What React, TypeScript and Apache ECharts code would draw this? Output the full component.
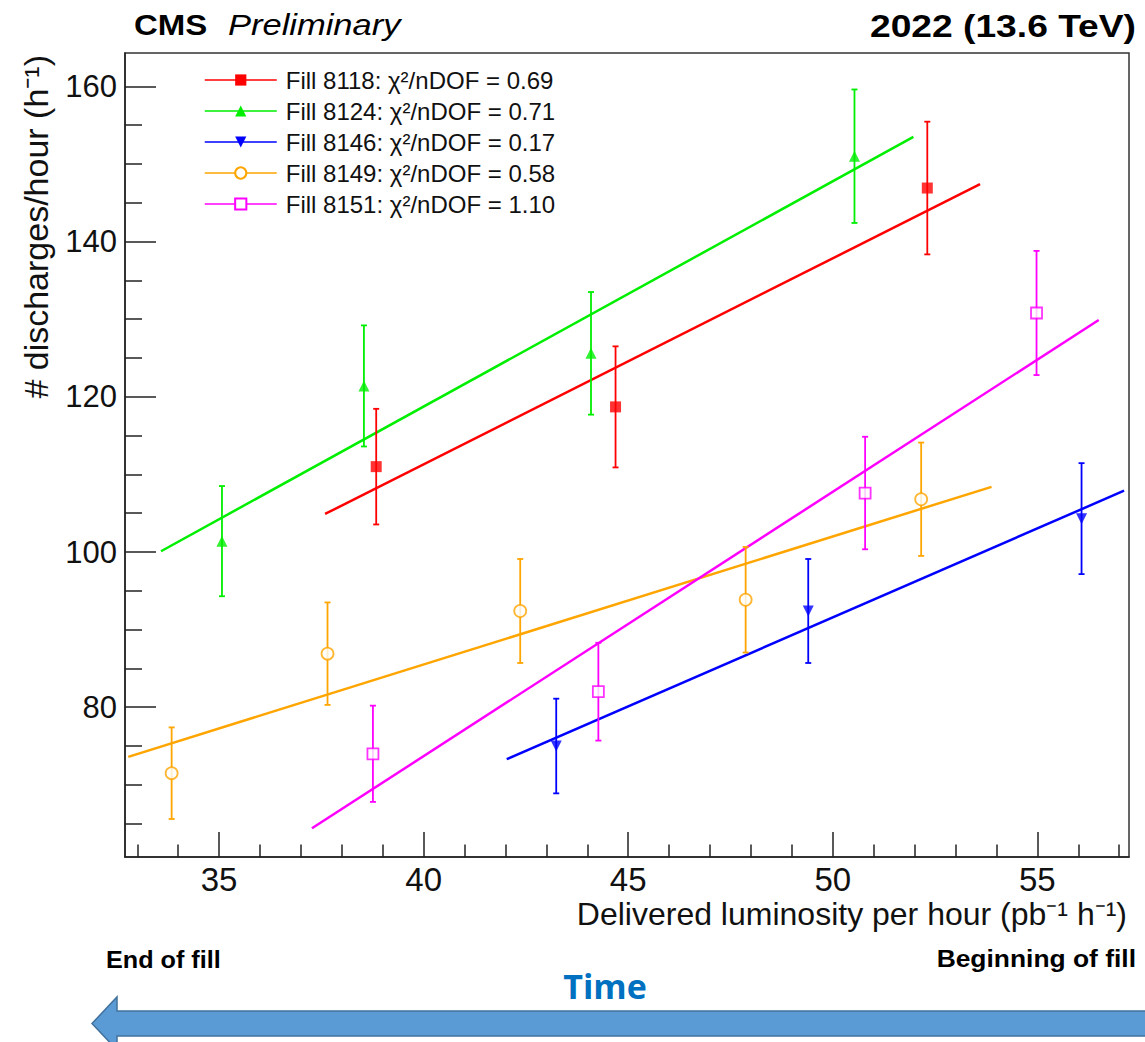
import React, { useEffect, useRef } from "react";
import * as echarts from "echarts";

// ---- data ----
const seriesNames = [
  "Fill 8118: χ²/nDOF = 0.69",
  "Fill 8124: χ²/nDOF = 0.71",
  "Fill 8146: χ²/nDOF = 0.17",
  "Fill 8149: χ²/nDOF = 0.58",
  "Fill 8151: χ²/nDOF = 1.10",
];

const fill8118X = [38.84, 44.69, 52.31];
const fill8118Y = [111.0, 118.7, 146.9];
const fill8118Err = [7.45, 7.8, 8.55];
const fill8118Fit = [[37.59, 104.9], [53.6, 147.4]];

const fill8124X = [35.07, 38.54, 44.09, 50.53];
const fill8124Y = [101.4, 121.4, 125.6, 151.0];
const fill8124Err = [7.1, 7.8, 7.9, 8.6];
const fill8124Fit = [[33.58, 100.1], [51.97, 153.5]];

const fill8146X = [43.24, 49.4, 56.08];
const fill8146Y = [75.0, 92.4, 104.3];
const fill8146Err = [6.1, 6.7, 7.15];
const fill8146Fit = [[42.03, 73.3], [57.12, 107.9]];

const fill8149X = [33.84, 37.65, 42.36, 47.87, 52.16];
const fill8149Y = [71.5, 86.9, 92.4, 93.85, 106.8];
const fill8149Err = [5.9, 6.6, 6.7, 6.8, 7.3];
const fill8149Fit = [[32.78, 73.6], [53.88, 108.4]];

const fill8151X = [38.76, 44.27, 50.79, 54.98];
const fill8151Y = [74.0, 82.0, 107.6, 130.8];
const fill8151Err = [6.2, 6.3, 7.25, 8.0];
const fill8151Fit = [[37.27, 64.4], [56.5, 129.9]];

const xMajorTicks = [35, 40, 45, 50, 55];
const xMinorTicks = [33, 34, 36, 37, 38, 39, 41, 42, 43, 44, 46, 47, 48, 49, 51, 52, 53, 54, 56, 57];
const yMajorTicks = [80, 100, 120, 140, 160];
const yMinorTicks = [65, 70, 75, 85, 90, 95, 105, 110, 115, 125, 130, 135, 145, 150, 155];

const xMin = 32.7;
const xMax = 57.24;
const yMin = 60.7;
const yMax = 164.3;

const FONT = "'Liberation Sans', Arial, Helvetica, sans-serif";

type Fill = {
  name: string;
  xs: number[];
  ys: number[];
  errs: number[];
  fit: number[][];
  color: string;
  symbol: string;
  legendSymbol: string;
  rotate: number;
  hollow: boolean;
  size: number;
};

const fills: Fill[] = [
  { name: seriesNames[0], xs: fill8118X, ys: fill8118Y, errs: fill8118Err, fit: fill8118Fit, color: "#FF0000", symbol: "rect", legendSymbol: "rect", rotate: 0, hollow: false, size: 11 },
  { name: seriesNames[1], xs: fill8124X, ys: fill8124Y, errs: fill8124Err, fit: fill8124Fit, color: "#00EE00", symbol: "triangle", legendSymbol: "triangle", rotate: 0, hollow: false, size: 11 },
  { name: seriesNames[2], xs: fill8146X, ys: fill8146Y, errs: fill8146Err, fit: fill8146Fit, color: "#0000FF", symbol: "triangle", legendSymbol: "triangle", rotate: 180, hollow: false, size: 11 },
  { name: seriesNames[3], xs: fill8149X, ys: fill8149Y, errs: fill8149Err, fit: fill8149Fit, color: "#FFA500", symbol: "circle", legendSymbol: "emptyCircle", rotate: 0, hollow: true, size: 12 },
  { name: seriesNames[4], xs: fill8151X, ys: fill8151Y, errs: fill8151Err, fit: fill8151Fit, color: "#FF00FF", symbol: "rect", legendSymbol: "emptyRect", rotate: 0, hollow: true, size: 11 },
];

function buildOption() {
  const series: any[] = [];
  fills.forEach((f, k) => {
    series.push({
      name: f.name,
      type: "line",
      data: f.fit,
      showSymbol: false,
      symbol: f.legendSymbol,
      symbolRotate: f.rotate,
      lineStyle: { color: f.color, width: 2.5 },
      itemStyle: { color: f.color },
      z: 2,
      silent: true,
    });
    series.push({
      name: "err" + k,
      type: "custom",
      data: f.xs.map((x, i) => [x, f.ys[i] - f.errs[i], f.ys[i] + f.errs[i]]),
      encode: { x: 0, y: [1, 2] },
      z: 3,
      silent: true,
      renderItem: (params: any, api: any) => {
        const x = api.value(0);
        const lo = api.coord([x, api.value(1)]);
        const hi = api.coord([x, api.value(2)]);
        const cap = 3;
        const st = { stroke: f.color, lineWidth: 1.8 };
        return {
          type: "group",
          children: [
            { type: "line", shape: { x1: lo[0], y1: lo[1], x2: hi[0], y2: hi[1] }, style: st },
            { type: "line", shape: { x1: lo[0] - cap, y1: lo[1], x2: lo[0] + cap, y2: lo[1] }, style: st },
            { type: "line", shape: { x1: hi[0] - cap, y1: hi[1], x2: hi[0] + cap, y2: hi[1] }, style: st },
          ],
        };
      },
    });
    series.push({
      name: "pts" + k,
      type: "scatter",
      data: f.xs.map((x, i) => [x, f.ys[i]]),
      symbol: f.symbol,
      symbolRotate: f.rotate,
      symbolSize: f.size,
      itemStyle: f.hollow
        ? { color: "#FFFFFF", borderColor: f.color, borderWidth: 1.8 }
        : { color: f.color },
      z: 4,
      silent: true,
    });
  });

  const axisLineStyle = { color: "#222", width: 1.5 };

  return {
    animation: false,
    backgroundColor: "#FFFFFF",
    grid: {
      left: 125,
      top: 53,
      width: 1004,
      height: 804,
      show: true,
      borderColor: "#333",
      borderWidth: 1.5,
      backgroundColor: "transparent",
    },
    legend: {
      data: seriesNames,
      orient: "vertical",
      left: 199,
      top: 63,
      itemWidth: 72,
      itemHeight: 14,
      itemGap: 7,
      selectedMode: false,
      lineStyle: { width: 1.5 },
      textStyle: {
        fontFamily: FONT,
        fontSize: 24,
        lineHeight: 24,
        color: "#111",
        padding: [0, 0, 0, 4],
      },
    },
    xAxis: [
      {
        type: "value",
        min: xMin,
        max: xMax,
        position: "bottom",
        axisLine: { show: true, lineStyle: axisLineStyle },
        axisTick: { show: true, inside: true, length: 25, customValues: xMajorTicks, lineStyle: axisLineStyle },
        axisLabel: {
          show: true,
          customValues: xMajorTicks,
          fontFamily: FONT,
          fontSize: 33,
          color: "#111",
          margin: 6,
        },
        splitLine: { show: false },
      },
      {
        type: "value",
        min: xMin,
        max: xMax,
        position: "bottom",
        axisLine: { show: false },
        axisTick: { show: true, inside: true, length: 12.5, customValues: xMinorTicks, lineStyle: axisLineStyle },
        axisLabel: { show: false },
        splitLine: { show: false },
      },
    ],
    yAxis: [
      {
        type: "value",
        min: yMin,
        max: yMax,
        position: "left",
        axisLine: { show: true, lineStyle: axisLineStyle },
        axisTick: { show: true, inside: true, length: 31, customValues: yMajorTicks, lineStyle: axisLineStyle },
        axisLabel: {
          show: true,
          customValues: yMajorTicks,
          fontFamily: FONT,
          fontSize: 31,
          color: "#111",
          margin: 8,
        },
        splitLine: { show: false },
      },
      {
        type: "value",
        min: yMin,
        max: yMax,
        position: "left",
        axisLine: { show: false },
        axisTick: { show: true, inside: true, length: 17, customValues: yMinorTicks, lineStyle: axisLineStyle },
        axisLabel: { show: false },
        splitLine: { show: false },
      },
    ],
    graphic: [
      {
        type: "text",
        x: 134,
        y: 25,
        scaleX: 1.1,
        style: { text: "CMS", font: `bold 30px ${FONT}`, fill: "#000", align: "left", verticalAlign: "middle", textAlign: "left", textVerticalAlign: "middle" },
      },
      {
        type: "text",
        x: 228,
        y: 25,
        scaleX: 1.15,
        style: { text: "Preliminary", font: `italic 30px ${FONT}`, fill: "#000", align: "left", verticalAlign: "middle", textAlign: "left", textVerticalAlign: "middle" },
      },
      {
        type: "text",
        x: 1136,
        y: 26,
        scaleX: 1.2,
        style: { text: "2022 (13.6 TeV)", font: `bold 31px ${FONT}`, fill: "#000", align: "right", verticalAlign: "middle", textAlign: "right", textVerticalAlign: "middle" },
      },
      {
        type: "text",
        x: 1127,
        y: 914,
        style: { text: "Delivered luminosity per hour (pb⁻¹ h⁻¹)", font: `32px ${FONT}`, fill: "#111", align: "right", verticalAlign: "middle", textAlign: "right", textVerticalAlign: "middle" },
      },
      {
        type: "text",
        x: 36,
        y: 55,
        rotation: Math.PI / 2,
        style: { text: "# discharges/hour (h⁻¹)", font: `34px ${FONT}`, fill: "#111", align: "right", verticalAlign: "middle", textAlign: "right", textVerticalAlign: "middle" },
      },
      {
        type: "text",
        x: 106,
        y: 960,
        scaleX: 1.05,
        style: { text: "End of fill", font: `bold 24px ${FONT}`, fill: "#000", align: "left", verticalAlign: "middle", textAlign: "left", textVerticalAlign: "middle" },
      },
      {
        type: "text",
        x: 1136,
        y: 958,
        scaleX: 1.1,
        style: { text: "Beginning of fill", font: `bold 24px ${FONT}`, fill: "#000", align: "right", verticalAlign: "middle", textAlign: "right", textVerticalAlign: "middle" },
      },
      {
        type: "text",
        x: 605,
        y: 986,
        style: { text: "Time", font: `bold 34px 'Open Sans', Lato, sans-serif`, fill: "#0070C0", align: "center", verticalAlign: "middle", textAlign: "center", textVerticalAlign: "middle" },
      },
      {
        type: "polygon",
        shape: {
          points: [
            [92, 1023.5],
            [117, 997],
            [117, 1011],
            [1160, 1011],
            [1160, 1036],
            [117, 1036],
            [117, 1050],
          ],
        },
        style: { fill: "#5B9BD5", stroke: "#41719C", lineWidth: 1.5 },
      },
    ],
    series,
  };
}

export default function App() {
  const ref = useRef<HTMLDivElement>(null);
  useEffect(() => {
    if (!ref.current) return;
    const chart = echarts.init(ref.current, null, { renderer: "svg" });
    chart.setOption(buildOption() as any);
    return () => chart.dispose();
  }, []);
  return (
    <div
      ref={ref}
      style={{ position: "absolute", left: 0, top: 0, width: 1145, height: 1042, background: "#fff" }}
    />
  );
}
